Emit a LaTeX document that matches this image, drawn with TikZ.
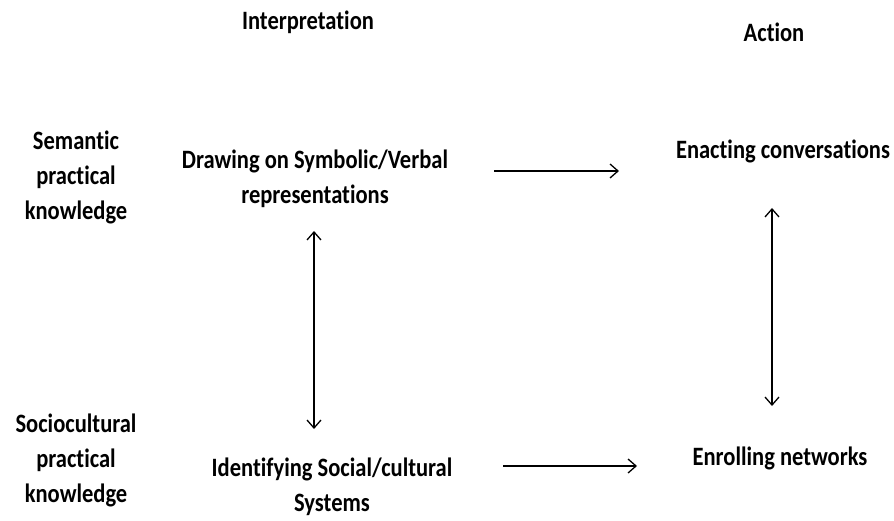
\documentclass[tikz,border=0pt]{standalone}
\usepackage{fontspec}
\setmainfont[FakeStretch=0.85, Ligatures=NoCommon]{Carlito}
\usetikzlibrary{arrows.meta}

\begin{document}
\begin{tikzpicture}[x=1pt,y=-1pt,
    lbl/.style={font=\fontsize{26.5}{35}\selectfont\bfseries, align=center, inner sep=0pt},
    arr/.style={line width=1.3pt, -{Straight Barb[length=8pt,width=14pt]}},
    dblarr/.style={line width=1.3pt, {Straight Barb[length=8pt,width=14pt]}-{Straight Barb[length=8pt,width=14pt]}}]
    \useasboundingbox (0,0) rectangle (894,521);
    % column heads
    \node[lbl] (Interp) at (308,22) {Interpretation};
    \node[lbl] (Action) at (774,32) {Action};
    % row heads
    \node[lbl] (Semantic) at (76,177) {Semantic\\practical\\knowledge};
    \node[lbl] (Socio) at (76,460) {Sociocultural\\practical\\knowledge};
    % cells
    \node[lbl] (Symbolic) at (315,179) {Drawing on Symbolic/Verbal\\representations};
    \node[lbl] (Enacting) at (783,151) {Enacting conversations};
    \node[lbl] (Social) at (332,487) {Identifying Social/cultural\\Systems};
    \node[lbl] (Enrolling) at (780,458) {Enrolling networks};
    % arrow ends
    \coordinate (SymR) at (494,171);
    \coordinate (EnaL) at (619,171);
    \coordinate (SymB) at (314,231);
    \coordinate (SocT) at (314,429);
    \coordinate (SocR) at (503,466);
    \coordinate (EnrL) at (637,466);
    \coordinate (EnaB) at (772,208);
    \coordinate (EnrT) at (772,406);
    \draw[arr] (SymR) -- (EnaL);
    \draw[arr] (SocR) -- (EnrL);
    \draw[dblarr] (SymB) -- (SocT);
    \draw[dblarr] (EnaB) -- (EnrT);
\end{tikzpicture}
\end{document}
